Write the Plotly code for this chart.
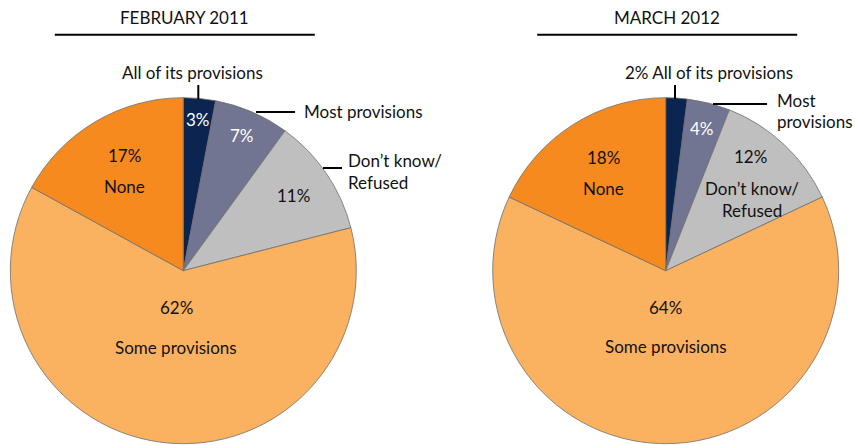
import math
import plotly.graph_objects as go

W, H = 855, 445

categories = ["All of its provisions", "Most provisions", "Don't know/Refused", "Some provisions", "None"]
feb_2011 = [3, 7, 11, 62, 17]
mar_2012 = [2, 4, 12, 64, 18]
titles = ["FEBRUARY 2011", "MARCH 2012"]
colors = ["#0B2550", "#727591", "#BFBFBF", "#FBB260", "#F68A1F"]

FONT = "Lato"
FS = 17

# pie geometry (pixels)
R = 173
CY = 270.7
CX = [183.3, 665.7]

def px(x):
    return x / W

def py(y):
    return 1 - y / H

fig = go.Figure()
for i, vals in enumerate([feb_2011, mar_2012]):
    cx = CX[i]
    fig.add_trace(go.Pie(
        labels=categories, values=vals, sort=False, direction="clockwise", rotation=0,
        marker=dict(colors=colors, line=dict(color="#6E6E6E", width=0.8)),
        textinfo="none", hoverinfo="label+percent", showlegend=False,
        domain=dict(x=[px(cx - R), px(cx + R)], y=[py(CY + R), py(CY - R)]),
    ))

annotations = []
shapes = []

def mid_angle(vals, k):
    tot = sum(vals)
    return 360 * (sum(vals[:k]) + vals[k] / 2) / tot

def pol(cx, ang, frac):
    a = math.radians(ang)
    return cx + R * frac * math.sin(a), CY - R * frac * math.cos(a)

def txt(x, y, s, color="#111111", xanchor="center"):
    annotations.append(dict(x=px(x), y=py(y), xref="paper", yref="paper", text=s,
                            showarrow=False, xanchor=xanchor, yanchor="middle",
                            font=dict(family=FONT, size=FS, color=color)))

def line(x0, y0, x1, y1):
    shapes.append(dict(type="line", xref="paper", yref="paper", x0=px(x0), y0=py(y0),
                       x1=px(x1), y1=py(y1), line=dict(color="#000000", width=2)))

# titles
for i, t in enumerate(titles):
    cx = CX[i]
    txt(cx + 1, 17, t)
    line(cx - 128.5, 34.7, cx + 131.5, 34.7)

# ---- left pie labels ----
v = feb_2011; cx = CX[0]
x, y = pol(cx, mid_angle(v, 0), 0.88); txt(x, y, f"{v[0]}%", "#FFFFFF")
x, y = pol(cx, mid_angle(v, 1), 0.85); txt(x, y, f"{v[1]}%", "#FFFFFF")
x, y = pol(cx, mid_angle(v, 2), 0.77); txt(x, y, f"{v[2]}%")
x, y = pol(cx, mid_angle(v, 4), 0.67); txt(x, y - 15, f"{v[4]}%"); txt(x, y + 16, "None")
x, y = pol(cx, mid_angle(v, 3), 0.33); txt(x, y - 20, f"{v[3]}%"); txt(x, y + 20, "Some provisions")
# outside labels
txt(cx + 9, 72, "All of its provisions")
line(cx + 15, 85, cx + 15, 99)
txt(cx + 119, 111, "Most provisions", xanchor="left")
line(cx + 72.7, 112, cx + 111.7, 112)
txt(cx + 163, 160, "Don\u2019t know/", xanchor="left")
txt(cx + 163, 183, "Refused", xanchor="left")
line(cx + 139.7, 168, cx + 158.7, 168)

# ---- right pie labels ----
v = mar_2012; cx = CX[1]
x, y = pol(cx, mid_angle(v, 1), 0.85); txt(x, y, f"{v[1]}%", "#FFFFFF")
x, y = pol(cx, mid_angle(v, 2), 0.72); txt(x, y - 23, f"{v[2]}%")
txt(x + 1, y + 9, "Don\u2019t know/"); txt(x + 1, y + 31, "Refused")
x, y = pol(cx, mid_angle(v, 4), 0.67); txt(x, y - 15, f"{v[4]}%"); txt(x, y + 16, "None")
x, y = pol(cx, mid_angle(v, 3), 0.33); txt(x, y - 20, f"{v[3]}%"); txt(x, y + 19, "Some provisions")
txt(cx + 43.3, 72, f"{v[0]}% All of its provisions")
line(cx + 9.3, 85, cx + 9.3, 99)
txt(cx + 109.3, 100, "Most", xanchor="left")
txt(cx + 109.3, 122, "provisions", xanchor="left")
line(cx + 47.3, 104, cx + 101.3, 104)

fig.update_layout(
    width=W, height=H, margin=dict(l=0, r=0, t=0, b=0),
    paper_bgcolor="#FFFFFF", plot_bgcolor="#FFFFFF",
    annotations=annotations, shapes=shapes,
    font=dict(family=FONT, size=FS, color="#111111"),
)

fig.write_html("out.html", config={"displayModeBar": False},
               post_script="document.body.style.margin='0';document.body.style.overflow='hidden';")
